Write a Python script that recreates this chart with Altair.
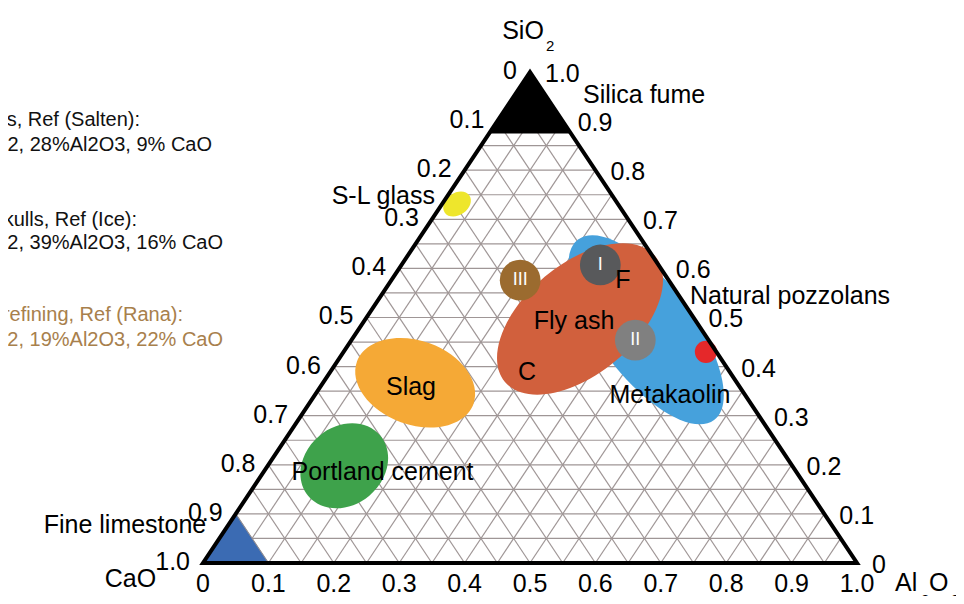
import altair as alt
import pandas as pd

# ---------------- data ----------------
TICK_VALUES = [0.0, 0.1, 0.2, 0.3, 0.4, 0.5, 0.6, 0.7, 0.8, 0.9, 1.0]
TICK_LABELS = ["0", "0.1", "0.2", "0.3", "0.4", "0.5", "0.6", "0.7", "0.8", "0.9", "1.0"]
GRID_FRACTIONS = [0.05, 0.10, 0.15, 0.20, 0.25, 0.30, 0.35, 0.40, 0.45, 0.50,
                  0.55, 0.60, 0.65, 0.70, 0.75, 0.80, 0.85, 0.90, 0.95]

SILICA_FUME_MIN_SIO2 = 0.875
LIMESTONE_MIN_CAO = 0.90

# region centres (ternary composition)
REGION_NAMES = ["Metakaolin", "Fly ash", "Slag", "Portland cement", "S-L glass"]
REGION_SIO2 = [0.475, 0.497, 0.367, 0.198, 0.731]
REGION_AL2O3 = [0.440, 0.328, 0.141, 0.117, 0.023]

# sample points I, II, III
SAMPLE_NAMES = ["I", "III", "II"]
SAMPLE_SIO2 = [0.607, 0.576, 0.454]
SAMPLE_AL2O3 = [0.304, 0.197, 0.434]

# natural pozzolan point
POZZOLAN_SIO2 = [0.430]
POZZOLAN_AL2O3 = [0.554]

# text notes (left block, partly cut off in the original)
NOTE_TEXT = ["s, Ref (Salten):", "2, 28%Al2O3, 9% CaO",
             "kulls, Ref (Ice):", "2, 39%Al2O3, 16% CaO",
             "refining, Ref (Rana):", "2, 19%Al2O3, 22% CaO"]
NOTE_X = [-0.0963, 0.0138, -0.1009, 0.0306, -0.0306, 0.0306]
NOTE_Y = [0.9022, 0.8513, 0.6986, 0.6517, 0.5051, 0.4542]
NOTE_GROUP = ["a", "a", "a", "a", "b", "b"]

# labels (plane coordinates)
CENTER_TEXT = ["Slag", "Portland cement", "Fly ash", "F", "C", "Metakaolin",
               "Fine limestone", "CaO", "SiO"]
CENTER_X = [0.318, 0.2745, 0.5673, 0.6422, 0.4954, 0.714, -0.1193, -0.1109, 0.4893]
CENTER_Y = [0.3585, 0.1853, 0.4929, 0.5764, 0.389, 0.3422, 0.0774, -0.0326, 1.0835]

LEFT_TEXT = ["Silica fume", "Natural pozzolans", "Al", "O"]
LEFT_X = [0.581, 0.7446, 1.0581, 1.1101]
LEFT_Y = [0.953, 0.5438, -0.0407, -0.0407]

RIGHT_TEXT = ["S-L glass"]
RIGHT_X = [0.3547]
RIGHT_Y = [0.7475]

SUB_TEXT = ["2", "2", "3"]
SUB_X = [0.5245, 1.0979, 1.1437]
SUB_Y = [1.053, -0.0754, -0.0754]

# ---------------- styles ----------------
FONT = "Liberation Sans, Arial"
ELLIPSE_STYLE = {
    "Metakaolin": dict(rx=113, ry=47, angle=53, color="#46a1dc"),
    "Fly ash": dict(rx=98, ry=55, angle=320, color="#d1603d"),
    "Slag": dict(rx=62, ry=42, angle=20, color="#f5a936"),
    "Portland cement": dict(rx=47, ry=39, angle=320, color="#3ea24b"),
    "S-L glass": dict(rx=15, ry=11, angle=325, color="#eee62c"),
}
SAMPLE_COLORS = ["#58595b", "#9b6b2f", "#808080"]


def to_plane(sio2, al2o3):
    return al2o3 + sio2 / 2.0, sio2


def ellipse_path(r):
    k = 0.5523
    return (f"M1,0 C1,{k*r:.4f} {k},{r:.4f} 0,{r:.4f} "
            f"C{-k},{r:.4f} -1,{k*r:.4f} -1,0 "
            f"C-1,{-k*r:.4f} {-k},{-r:.4f} 0,{-r:.4f} "
            f"C{k},{-r:.4f} 1,{-k*r:.4f} 1,0 Z")


W, H = 948, 588
xscale = alt.Scale(domain=[-0.298165, 1.151376], nice=False, zero=False)
yscale = alt.Scale(domain=[-0.067210, 1.130346], nice=False, zero=False)


def X(f):
    return alt.X(f"{f}:Q", scale=xscale, axis=None)


def Y(f):
    return alt.Y(f"{f}:Q", scale=yscale, axis=None)


# grid
grid_rows = []
for v in GRID_FRACTIONS:
    grid_rows.append(dict(x=v / 2, y=v, x2=1 - v / 2, y2=v))          # const SiO2
    grid_rows.append(dict(x=v, y=0, x2=v + (1 - v) / 2, y2=1 - v))    # const Al2O3
    grid_rows.append(dict(x=1 - v, y=0, x2=(1 - v) / 2, y2=1 - v))    # const CaO
grid = alt.Chart(pd.DataFrame(grid_rows)).mark_rule(
    color="#9f9696", strokeWidth=1.2
).encode(x=X("x"), y=Y("y"), x2="x2:Q", y2="y2:Q")

# silica fume black triangle
s0 = SILICA_FUME_MIN_SIO2
sf_pts = [to_plane(s0, 0.0), to_plane(1.0, 0.0), to_plane(s0, 1 - s0)]
silica = alt.Chart(pd.DataFrame({
    "x": [p[0] for p in sf_pts], "y": [p[1] for p in sf_pts], "yb": [s0] * 3
})).mark_area(color="black", opacity=1).encode(x=X("x"), y=Y("y"), y2="yb:Q")

# fine limestone blue triangle
c0 = LIMESTONE_MIN_CAO
ls_pts = [to_plane(0.0, 0.0), to_plane(1 - c0, 0.0), to_plane(0.0, 1 - c0)]
limestone = alt.Chart(pd.DataFrame({
    "x": [p[0] for p in ls_pts], "y": [p[1] for p in ls_pts], "yb": [0.0] * 3
})).mark_area(color="#3b6bb3", opacity=1, stroke="#8d8d95", strokeWidth=1).encode(
    x=X("x"), y=Y("y"), y2="yb:Q")

# ellipses
ellipses = []
for name, s, a in zip(REGION_NAMES, REGION_SIO2, REGION_AL2O3):
    st = ELLIPSE_STYLE[name]
    px, py = to_plane(s, a)
    ellipses.append(
        alt.Chart(pd.DataFrame({"x": [px], "y": [py], "name": [name]})).mark_point(
            shape=ellipse_path(st["ry"] / st["rx"]), size=(2 * st["rx"]) ** 2,
            angle=st["angle"], filled=True, color=st["color"], opacity=1, strokeWidth=0
        ).encode(x=X("x"), y=Y("y"))
    )

# sample circles
samp_df = pd.DataFrame({
    "name": SAMPLE_NAMES,
    "x": [to_plane(s, a)[0] for s, a in zip(SAMPLE_SIO2, SAMPLE_AL2O3)],
    "y": [to_plane(s, a)[1] for s, a in zip(SAMPLE_SIO2, SAMPLE_AL2O3)],
})
samples = alt.Chart(samp_df).mark_circle(size=1662, opacity=1).encode(
    x=X("x"), y=Y("y"),
    color=alt.Color("name:N", scale=alt.Scale(domain=SAMPLE_NAMES, range=SAMPLE_COLORS), legend=None),
)
samp_text = alt.Chart(samp_df).mark_text(
    font=FONT, fontSize=18, color="white", baseline="middle", align="center"
).encode(x=X("x"), y=Y("y"), text="name:N")

poz_df = pd.DataFrame({
    "x": [to_plane(s, a)[0] for s, a in zip(POZZOLAN_SIO2, POZZOLAN_AL2O3)],
    "y": [to_plane(s, a)[1] for s, a in zip(POZZOLAN_SIO2, POZZOLAN_AL2O3)],
})
pozzolan = alt.Chart(poz_df).mark_circle(size=491, opacity=1, color="#e5282a").encode(
    x=X("x"), y=Y("y"))

# outline
corners = [to_plane(0, 0), to_plane(0, 1), to_plane(1, 0), to_plane(0, 0), to_plane(0, 1)]
outline = alt.Chart(pd.DataFrame({
    "i": list(range(len(corners))),
    "x": [c[0] for c in corners], "y": [c[1] for c in corners],
})).mark_line(color="black", strokeWidth=4, strokeJoin="miter").encode(
    x=X("x"), y=Y("y"), order="i:Q")

# tick labels
right_df = pd.DataFrame({"x": [1 - v / 2 for v in TICK_VALUES], "y": TICK_VALUES, "t": TICK_LABELS})
left_df = pd.DataFrame({"x": [(1 - v) / 2 for v in TICK_VALUES], "y": [1 - v for v in TICK_VALUES], "t": TICK_LABELS})
bottom_df = pd.DataFrame({"x": TICK_VALUES, "y": [0.0] * len(TICK_VALUES), "t": TICK_LABELS})

def text_layer(df, align, size=25, color="black", dx=0, dy=0):
    return alt.Chart(df).mark_text(
        font=FONT, fontSize=size, color=color, align=align, baseline="middle", dx=dx, dy=dy
    ).encode(x=X("x"), y=Y("y"), text="t:N")

ticks_r = text_layer(right_df, "left", dx=15, dy=2)
ticks_l = text_layer(left_df, "right", dx=-13, dy=-1)
ticks_b = text_layer(bottom_df, "center", dy=21)

lab_c = text_layer(pd.DataFrame({"x": CENTER_X, "y": CENTER_Y, "t": CENTER_TEXT}), "center")
lab_l = text_layer(pd.DataFrame({"x": LEFT_X, "y": LEFT_Y, "t": LEFT_TEXT}), "left")
lab_r = text_layer(pd.DataFrame({"x": RIGHT_X, "y": RIGHT_Y, "t": RIGHT_TEXT}), "right")
lab_sub = text_layer(pd.DataFrame({"x": SUB_X, "y": SUB_Y, "t": SUB_TEXT}), "left", size=15)

note_df = pd.DataFrame({"x": NOTE_X, "y": NOTE_Y, "t": NOTE_TEXT, "g": NOTE_GROUP})
notes_a = text_layer(note_df[note_df.g == "a"], "right", size=20, color="#111111")
notes_b = text_layer(note_df[note_df.g == "b"], "right", size=20, color="#a8804c")

chart = alt.layer(
    grid, silica, limestone, *ellipses, samples, samp_text, pozzolan, outline,
    ticks_r, ticks_l, ticks_b, lab_c, lab_l, lab_r, lab_sub, notes_a, notes_b
).properties(
    width=W, height=H, padding=0, autosize=alt.AutoSizeParams(type="none"), background="white"
).configure_view(stroke=None)

chart.save("out.html", embed_options={"renderer": "svg", "actions": False})
